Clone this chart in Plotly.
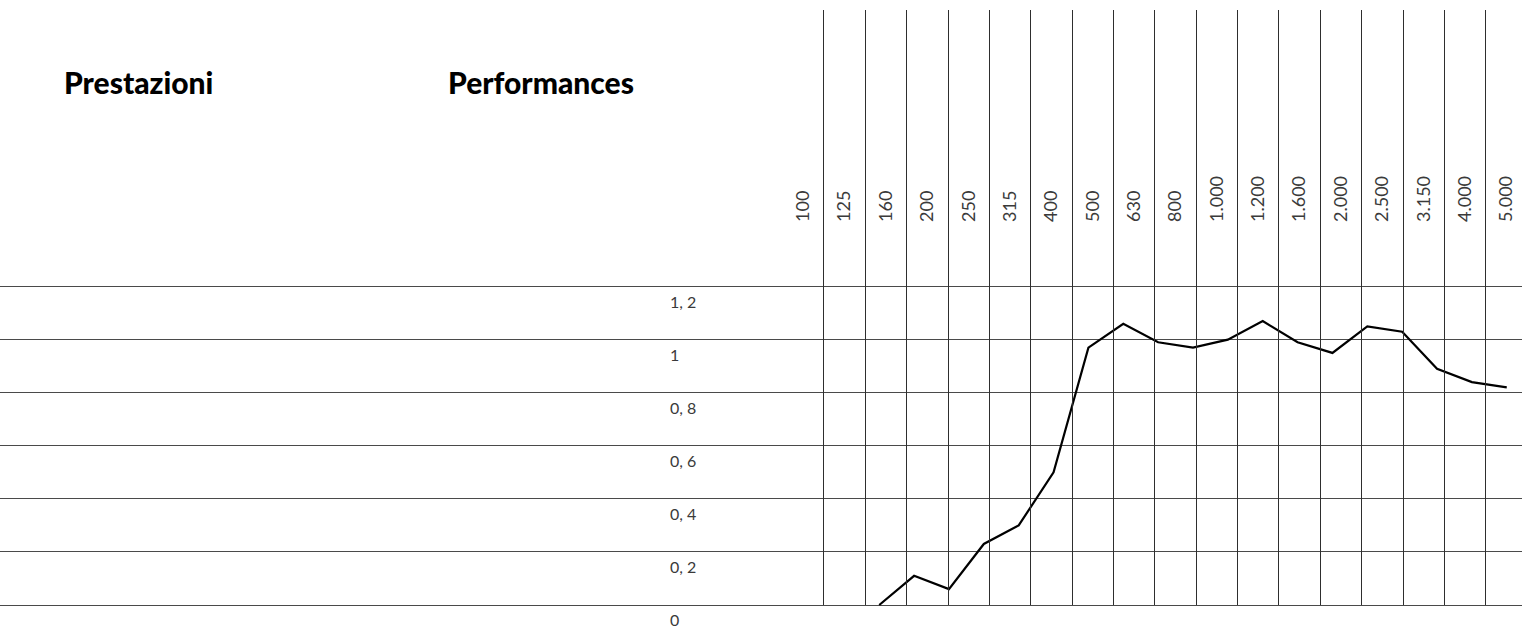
import plotly.graph_objects as go

# Column labels (Hz) shown at top of the grid
band_labels = ["100", "125", "160", "200", "250", "315", "400", "500", "630", "800",
               "1.000", "1.200", "1.600", "2.000", "2.500", "3.150", "4.000", "5.000"]

# Measured curve: 1/3-octave bands and absorption values
curve_freqs = ["80", "100", "125", "160", "200", "250", "315", "400", "500", "630",
               "800", "1000", "1250", "1600", "2000", "2500", "3150", "4000", "5000"]
curve_values = [0.00, 0.11, 0.06, 0.23, 0.30, 0.50, 0.97, 1.06, 0.99, 0.97,
                1.00, 1.07, 0.99, 0.95, 1.05, 1.03, 0.89, 0.84, 0.82]

# Y axis ticks
y_ticks = [0, 0.2, 0.4, 0.6, 0.8, 1.0, 1.2]
y_tick_text = ["0", "0, 2", "0, 4", "0, 6", "0, 8", "1", "1, 2"]

titles = ["Prestazioni", "Performances"]

W, H = 1522, 630
x_label_font = dict(family="Lato", size=18, color="#3a3a3a")
y_label_font = dict(family="Lato", size=16, color="#3a3a3a")

fig = go.Figure()

# data line
fig.add_trace(go.Scatter(
    x=curve_freqs, y=curve_values, mode="lines",
    line=dict(color="#000000", width=2.2),
    xaxis="x", yaxis="y", hoverinfo="skip", showlegend=False,
))
# empty trace to create the vertical-grid subplot
fig.add_trace(go.Scatter(x=[], y=[], xaxis="x2", yaxis="y2", showlegend=False))

n_bands = len(band_labels)
fig.update_layout(
    width=W, height=H,
    margin=dict(l=0, r=0, t=0, b=0),
    paper_bgcolor="white", plot_bgcolor="rgba(0,0,0,0)",
    xaxis=dict(type="category", domain=[0, 1], range=[-25.22, 18.437],
               visible=False),
    yaxis=dict(domain=[0, 1], range=[-0.0942, 2.280],
               tickmode="array", tickvals=y_ticks, showticklabels=False,
               showgrid=True, gridcolor="#4a4a4a", gridwidth=1.3,
               zeroline=False, showline=False, ticks=""),
    xaxis2=dict(type="linear", domain=[0, 1], range=[-19.42, 17.376],
                tickmode="array", tickvals=list(range(n_bands)), ticktext=band_labels,
                tickangle=-90, side="top", anchor="free", position=1 - 222 / H,
                showgrid=False, zeroline=False, showline=False, ticks="",
                tickfont=x_label_font, overlaying="x",
                minor=dict(tickmode="array",
                           tickvals=[i + 0.5 for i in range(n_bands - 1)],
                           showgrid=True, gridcolor="#2e2e2e", gridwidth=1.1,
                           ticks="")),
    yaxis2=dict(domain=[25 / H, 1 - 10 / H], range=[0, 1], visible=False),
)

# y labels sit just below each horizontal rule
for v, t in zip(y_ticks, y_tick_text):
    fig.add_annotation(text=t, xref="paper", yref="y", x=669 / W, y=v,
                       xanchor="left", yanchor="middle", yshift=-14.5,
                       borderpad=0, showarrow=False, font=y_label_font)

title_x = [62, 446]
for t, xp in zip(titles, title_x):
    fig.add_annotation(text=t, xref="paper", yref="paper", x=xp / W, y=1 - 82 / H,
                       xanchor="left", yanchor="middle", showarrow=False,
                       font=dict(family="Lato", size=30, color="#000000", weight=900))

fig.write_html("out.html", post_script="document.body.style.margin='0px';",
               config={"displayModeBar": False})
